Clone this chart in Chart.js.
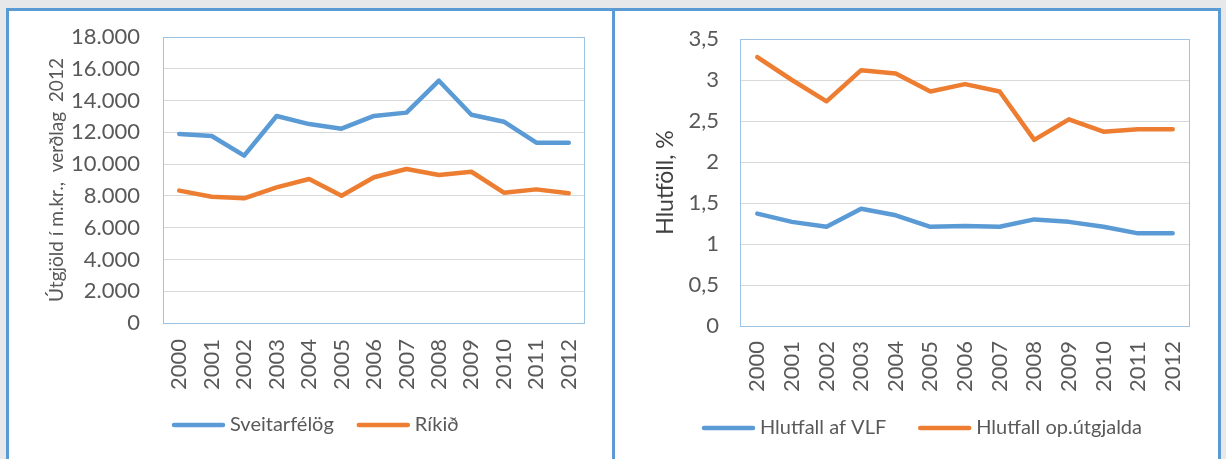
<!DOCTYPE html>
<html>
<head>
<meta charset="utf-8">
<script src="https://cdn.jsdelivr.net/npm/chart.js@4.4.1/dist/chart.umd.min.js"></script>
<style>
  body { margin:0; background:#e7e8ea; width:1226px; height:459px; overflow:hidden; position:relative; }
  .panel { position:absolute; top:8px; height:470px; background:#fff; border:3px solid #5b9bd5; box-sizing:border-box; }
  #p1 { left:6px; width:609px; }
  #p2 { left:612px; width:609px; }
  canvas { position:absolute; left:0; top:0; }
</style>
</head>
<body>
<div class="panel" id="p1"><canvas id="c1" width="603" height="448"></canvas></div>
<div class="panel" id="p2"><canvas id="c2" width="603" height="448"></canvas></div>
<script>
const years = ['2000','2001','2002','2003','2004','2005','2006','2007','2008','2009','2010','2011','2012'];

const sveitarfelog = [11900, 11770, 10530, 13030, 12520, 12230, 13030, 13240, 15250, 13110, 12670, 11350, 11350];
const rikid = [8330, 7950, 7850, 8540, 9060, 8010, 9170, 9690, 9310, 9520, 8200, 8410, 8160];
const leftTicks = ['0','2.000','4.000','6.000','8.000','10.000','12.000','14.000','16.000','18.000'];

const hlutfallVLF = [1.37, 1.27, 1.21, 1.43, 1.35, 1.21, 1.22, 1.21, 1.30, 1.27, 1.21, 1.13, 1.13];
const hlutfallUtgj = [3.28, 3.00, 2.74, 3.12, 3.08, 2.86, 2.95, 2.86, 2.27, 2.52, 2.37, 2.40, 2.40];
const rightTicks = ['0','0,5','1','1,5','2','2,5','3','3,5'];

const BLUE = '#5b9bd5';
const ORANGE = '#ed7d31';
const FONT = 'Lato';

// frame round the plot area, light blue like the Excel original
Chart.register({
    id: 'plotFrame',
    beforeDatasetsDraw(chart) {
        const a = chart.chartArea;
        const ctx = chart.ctx;
        ctx.save();
        ctx.strokeStyle = '#9dc3e6';
        ctx.lineWidth = 1;
        ctx.strokeRect(a.left + 0.5, a.top + 0.5, a.right - a.left - 1, a.bottom - a.top);
        ctx.restore();
    }
});

// legend drawn by hand: line sample + label, left to right
Chart.register({
    id: 'lineLegend',
    afterDraw(chart, args, opts) {
        if (!opts.y) return;
        const ctx = chart.ctx;
        ctx.save();
        ctx.font = opts.size + 'px ' + FONT;
        ctx.textBaseline = 'middle';
        ctx.textAlign = 'left';
        ctx.lineCap = 'round';
        let x = opts.x;
        chart.data.datasets.forEach(ds => {
            ctx.strokeStyle = ds.borderColor;
            ctx.lineWidth = 4.5;
            ctx.beginPath();
            ctx.moveTo(x + 2, opts.y);
            ctx.lineTo(x + 51, opts.y);
            ctx.stroke();
            ctx.fillStyle = '#595959';
            ctx.fillText(ds.label, x + 58, opts.y);
            x += 58 + ctx.measureText(ds.label).width + opts.gap;
        });
        ctx.restore();
    }
});

function createChart(id, cfg){
    const ctx = document.getElementById(id).getContext('2d');
    return new Chart(ctx, {
        type: 'line',
        data: {
            labels: years,
            datasets: cfg.series.map(s => ({
                label: s.label,
                data: s.data,
                borderColor: s.color,
                backgroundColor: s.color,
                borderWidth: 4.5,
                pointRadius: 0,
                tension: 0,
                borderJoinStyle: 'round',
                borderCapStyle: 'round'
            }))
        },
        options: {
            responsive: false,
            animation: false,
            devicePixelRatio: 1,
            layout: { padding: cfg.padding },
            plugins: {
                tooltip: { enabled: false },
                legend: { display: false },
                lineLegend: cfg.legend
            },
            scales: {
                x: {
                    offset: true,
                    grid: { display: false },
                    border: { display: false },
                    ticks: {
                        color: '#595959',
                        minRotation: 90,
                        maxRotation: 90,
                        padding: cfg.xPad,
                        font: { family: FONT, size: 22 }
                    },
                    afterFit(axis) { axis.height = cfg.xHeight; }
                },
                y: {
                    min: 0,
                    max: cfg.max,
                    grid: { color: '#d9d9d9', drawTicks: false },
                    border: { display: false },
                    ticks: {
                        stepSize: cfg.step,
                        color: '#595959',
                        padding: cfg.yPad,
                        font: { family: FONT, size: 22 },
                        callback: (v, i) => cfg.tickLabels[i]
                    },
                    title: {
                        display: true,
                        text: cfg.title,
                        color: cfg.titleColor,
                        padding: 0,
                        font: { family: FONT, size: cfg.titleSize }
                    },
                    afterFit(axis) {
                        axis.width = cfg.yWidth;
                        axis.paddingTop = 0;
                        axis.paddingBottom = 0;
                    }
                }
            }
        }
    });
}

createChart('c1', {
    series: [
        { label: 'Sveitarfélög', data: sveitarfelog, color: BLUE },
        { label: 'Ríkið', data: rikid, color: ORANGE }
    ],
    max: 18000, step: 2000, tickLabels: leftTicks,
    title: 'Útgjöld í m.kr.,  verðlag  2012', titleColor: '#595959', titleSize: 19,
    padding: { left: 36, right: 27, top: 26, bottom: 0 },
    yWidth: 118, yPad: 23, xPad: 8, xHeight: 136,
    legend: { x: 163, y: 414, gap: 23, size: 20 }
});

createChart('c2', {
    series: [
        { label: 'Hlutfall af VLF', data: hlutfallVLF, color: BLUE },
        { label: 'Hlutfall op.útgjalda', data: hlutfallUtgj, color: ORANGE }
    ],
    max: 3.5, step: 0.5, tickLabels: rightTicks,
    title: 'Hlutföll, %', titleColor: '#404040', titleSize: 23,
    padding: { left: 37, right: 28, top: 28, bottom: 0 },
    yWidth: 88, yPad: 21, xPad: 7, xHeight: 133,
    legend: { x: 87, y: 417, gap: 32, size: 20 }
});
</script>
</body>
</html>
